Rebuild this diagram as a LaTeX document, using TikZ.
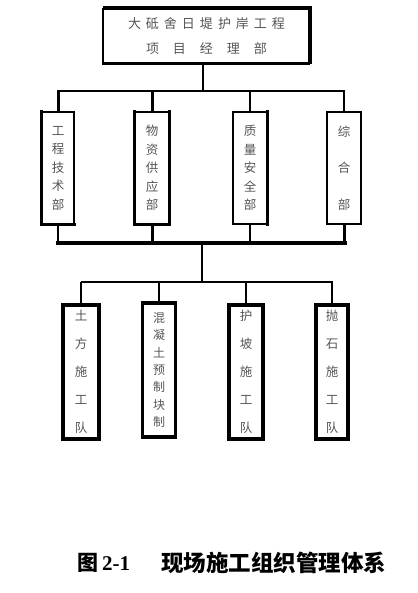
\documentclass[tikz,border=0pt]{standalone}
\usepackage{fontspec}
\setmainfont{Liberation Serif}
\newfontfamily\cjk{Noto Sans CJK SC}
\definecolor{txtgray}{HTML}{555555}
\begin{document}
\begin{tikzpicture}[x=1pt,y=-1pt,
  box/.style={draw, line width=1.6pt, inner sep=0pt, text=txtgray, align=center},
  thickedge/.style={line width=3.2pt, line cap=rect},
  thinline/.style={line width=1.7pt},
  thickline/.style={line width=3pt}]
\useasboundingbox[fill=white] (0,0) rectangle (417,593);

% top box
\node[box, minimum width=206pt, minimum height=54pt, font={\cjk\fontsize{13}{25}\selectfont}] (top) at (206.5,36)
  {大\hspace{5pt}砥\hspace{5pt}舍\hspace{5pt}日\hspace{5pt}堤\hspace{5pt}护\hspace{5pt}岸\hspace{5pt}工\hspace{5pt}程\\
   项\hspace{14pt}目\hspace{14pt}经\hspace{14pt}理\hspace{14pt}部};
\draw[line width=4pt] (top.north west) -- (top.north east) -- (top.south east);
\draw[line width=2pt] (top.north west) -- (top.south west) -- (top.south east);

% row 1 boxes
\tikzset{rowone/.style={box, minimum height=112pt, font={\cjk\fontsize{12.5}{18.5}\selectfont}}}
\node[rowone, minimum width=32pt] (b1) at (58,168) {工\\程\\技\\术\\部};
\node[rowone, minimum width=34pt] (b2) at (152,168) {物\\资\\供\\应\\部};
\node[rowone, minimum width=34pt] (b3) at (250,168) {质\\量\\安\\全\\部};
\node[rowone, minimum width=34pt, font={\cjk\fontsize{12.5}{36.5}\selectfont}] (b4) at (344,168) {综\\合\\部};

\draw[thickedge] (b1.north west) -- (b1.south west) -- (b1.south east);
\draw[thickedge] (b2.north west) -- (b2.south west) -- (b2.south east) -- (b2.north east);
\draw[thickedge] (b3.north east) -- (b3.south east);

% upper bus
\coordinate (j1) at (203,91);
\draw[thinline] (j1 |- top.south) -- (j1);
\coordinate (hl) at (57,91);
\coordinate (hr) at (345,91);
\draw[thinline] (hl) -- (hr);
\draw[thickline] (hl -| b1) -- (b1.north);
\draw[thickline] (hl -| b2) -- (b2.north);
\draw[thinline] (hl -| b3) -- (b3.north);
\draw[thinline] (hr -| b4) -- (b4.north);

% lower bus of row 1
\coordinate (ll) at (57,243);
\coordinate (lr) at (345,243);
\draw[thickline, line cap=rect] (ll) -- (lr);
\draw[thinline] (b1.south) -- (ll -| b1);
\draw[thickline] (b2.south) -- (ll -| b2);
\draw[thinline] (b3.south) -- (ll -| b3);
\draw[thickline] (b4.south) -- (lr -| b4);

% link to row 2
\coordinate (j2) at (202,243);
\coordinate (j3) at (202,282);
\draw[thinline] (j2) -- (j3);
\coordinate (ml) at (81,282);
\coordinate (mr) at (333,282);
\draw[thinline] (ml) -- (mr);

% row 2 boxes
\tikzset{rowtwo/.style={box, line width=3.4pt, minimum height=134pt, font={\cjk\fontsize{12.5}{28}\selectfont}}}
\node[rowtwo, minimum width=36pt] (c1) at (81,372) {土\\方\\施\\工\\队};
\node[rowtwo, minimum width=33pt, font={\cjk\fontsize{12}{17.3}\selectfont}] (c2) at (159,370) {混\\凝\\土\\预\\制\\块\\制};
\node[rowtwo, minimum width=34pt] (c3) at (246,372) {护\\坡\\施\\工\\队};
\node[rowtwo, minimum width=32pt] (c4) at (332,372) {抛\\石\\施\\工\\队};

\draw[thinline] (ml -| c1) -- (c1.north);
\draw[thinline] (ml -| c2) -- (c2.north);
\draw[thinline] (ml -| c3) -- (c3.north);
\draw[thinline] (mr -| c4) -- (c4.north);

% caption
\node[anchor=west, inner sep=0pt, font={\fontsize{21}{24}\selectfont\bfseries}] (cap1) at (77,563) {{\cjk 图}\hspace{4pt}2-1};
\node[anchor=west, inner sep=0pt, font={\cjk\fontsize{22.5}{26}\selectfont\bfseries}] (cap2) at (161,563) {现场施工组织管理体系};
\end{tikzpicture}
\end{document}
